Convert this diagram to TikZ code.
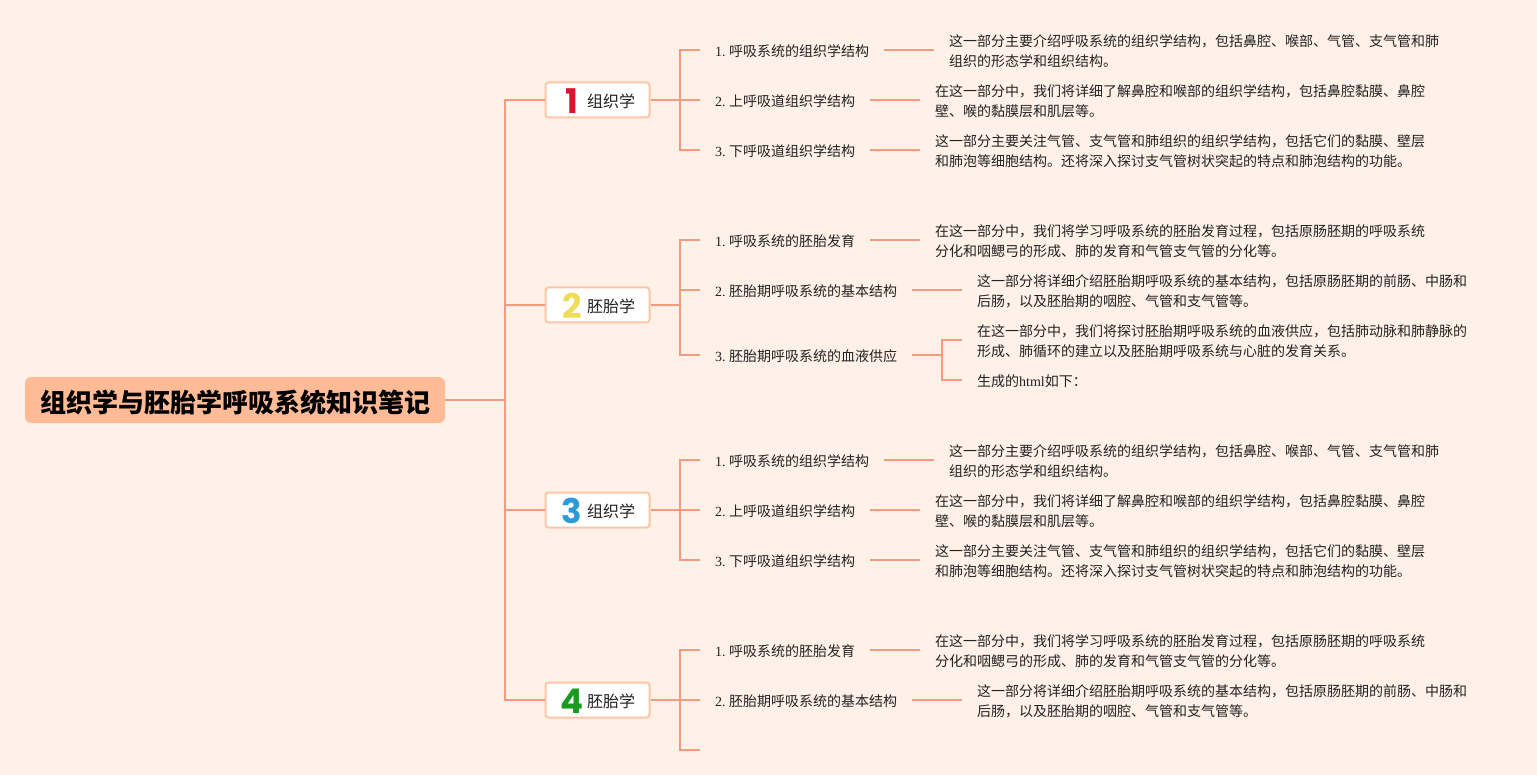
\documentclass[tikz,border=0pt]{standalone}
\usepackage{fontspec}
\setmainfont{Noto Sans CJK SC}
\newfontfamily\latinfont{Liberation Serif}
\newfontfamily\numfont{Poppins}[BoldFont={Poppins Bold}]
\definecolor{bgcol}{HTML}{FFF1E8}
\definecolor{linecol}{HTML}{F29B7E}
\definecolor{rootcol}{HTML}{FFBB96}
\definecolor{boxcol}{HTML}{FFC6A6}
\definecolor{txtcol}{HTML}{222222}
\definecolor{numa}{HTML}{D9142E}
\definecolor{numb}{HTML}{F0DC5A}
\definecolor{numc}{HTML}{2A9BD8}
\definecolor{numd}{HTML}{1A9A1E}
\newcommand{\numtag}[2]{\makebox[24pt][c]{\raisebox{-6pt}[0pt][0pt]{\fontsize{34}{34}\selectfont\numfont\bfseries\color{#1}#2}}\hspace{3pt}}
\newcommand{\notetop}{\rule{0pt}{14.5pt}}

\begin{document}
\begin{tikzpicture}[x=1pt,y=-1pt]
\tikzstyle{root}=[fill=rootcol,rounded corners=6pt,minimum width=420pt,minimum height=46pt,inner sep=0pt,text=black,font=\fontsize{26}{30}\selectfont\bfseries,execute at begin node={\rule{0pt}{27pt}}]
\tikzstyle{branch}=[draw=boxcol,line width=2pt,fill=white,rounded corners=3pt,minimum width=104pt,minimum height=35pt,inner sep=0pt,text=txtcol,font=\fontsize{16}{20}\selectfont,execute at begin node={\rule{0pt}{16pt}}]
\tikzstyle{leaf}=[anchor=west,inner xsep=15pt,inner ysep=2pt,text=txtcol,font=\fontsize{14}{20}\selectfont,execute at begin node={\rule{0pt}{14.5pt}}]
\tikzstyle{note}=[anchor=west,inner xsep=15pt,inner ysep=2pt,text=txtcol,font=\fontsize{14}{20}\selectfont,align=left]
\tikzstyle{edge}=[draw=linecol,line width=2pt]
    \fill[bgcol] (0,0) rectangle (1537,775);
    \useasboundingbox (0,0) rectangle (1537,775);
    % root and main spine
    \node[root] (root) at (235,400) {组织学与胚胎学呼吸系统知识笔记};
    \coordinate (s0) at (505,400);
    \node[branch] (b1) at (597.5,100) {\numtag{numa}{1}组织学};
    \node[branch] (b2) at (597.5,305) {\numtag{numb}{2}胚胎学};
    \node[branch] (b3) at (597.5,510) {\numtag{numc}{3}组织学};
    \node[branch] (b4) at (597.5,700) {\numtag{numd}{4}胚胎学};
    \path (root.east) edge [edge] (s0);
    \path[edge] (s0) |- (b1.west);
    \path[edge] (s0) |- (b2.west);
    \path[edge] (s0) |- (b3.west);
    \path[edge] (s0) |- (b4.west);
    % first group
    \coordinate (s1) at (680,100);
    \node[leaf] (l11) at (700,50) {{\latinfont 1.\ }呼吸系统的组织学结构};
    \node[leaf] (l12) at (700,100) {{\latinfont 2.\ }上呼吸道组织学结构};
    \node[leaf] (l13) at (700,150) {{\latinfont 3.\ }下呼吸道组织学结构};
    \node[note] (t11) at (934,50) {\notetop 这一部分主要介绍呼吸系统的组织学结构，包括鼻腔、喉部、气管、支气管和肺\\组织的形态学和组织结构。};
    \node[note] (t12) at (920,100) {\notetop 在这一部分中，我们将详细了解鼻腔和喉部的组织学结构，包括鼻腔黏膜、鼻腔\\壁、喉的黏膜层和肌层等。};
    \node[note] (t13) at (920,150) {\notetop 这一部分主要关注气管、支气管和肺组织的组织学结构，包括它们的黏膜、壁层\\和肺泡等细胞结构。还将深入探讨支气管树状突起的特点和肺泡结构的功能。};
    \path (b1.east) edge [edge] (s1);
    \path[edge] (s1) |- (l11.west);
    \path[edge] (s1) -- (l12.west);
    \path[edge] (s1) |- (l13.west);
    \path (l11) edge [edge] (t11);
    \path (l12) edge [edge] (t12);
    \path (l13) edge [edge] (t13);
    % second group
    \coordinate (s2) at (680,305);
    \coordinate (s23) at (942,355);
    \node[leaf] (l21) at (700,240) {{\latinfont 1.\ }呼吸系统的胚胎发育};
    \node[leaf] (l22) at (700,290) {{\latinfont 2.\ }胚胎期呼吸系统的基本结构};
    \node[leaf] (l23) at (700,355) {{\latinfont 3.\ }胚胎期呼吸系统的血液供应};
    \node[note] (t21) at (920,240) {\notetop 在这一部分中，我们将学习呼吸系统的胚胎发育过程，包括原肠胚期的呼吸系统\\分化和咽鳃弓的形成、肺的发育和气管支气管的分化等。};
    \node[note] (t22) at (962,290) {\notetop 这一部分将详细介绍胚胎期呼吸系统的基本结构，包括原肠胚期的前肠、中肠和\\后肠，以及胚胎期的咽腔、气管和支气管等。};
    \node[note] (t23) at (962,340) {\notetop 在这一部分中，我们将探讨胚胎期呼吸系统的血液供应，包括肺动脉和肺静脉的\\形成、肺循环的建立以及胚胎期呼吸系统与心脏的发育关系。};
    \node[leaf] (t24) at (962,380) {生成的{\latinfont html}如下：};
    \path (b2.east) edge [edge] (s2);
    \path[edge] (s2) |- (l21.west);
    \path[edge] (s2) |- (l22.west);
    \path[edge] (s2) |- (l23.west);
    \path (l21) edge [edge] (t21);
    \path (l22) edge [edge] (t22);
    \path (l23) edge [edge] (s23);
    \path[edge] (s23) |- (t23.west);
    \path[edge] (s23) |- (t24.west);
    % third group
    \coordinate (s3) at (680,510);
    \node[leaf] (l31) at (700,460) {{\latinfont 1.\ }呼吸系统的组织学结构};
    \node[leaf] (l32) at (700,510) {{\latinfont 2.\ }上呼吸道组织学结构};
    \node[leaf] (l33) at (700,560) {{\latinfont 3.\ }下呼吸道组织学结构};
    \node[note] (t31) at (934,460) {\notetop 这一部分主要介绍呼吸系统的组织学结构，包括鼻腔、喉部、气管、支气管和肺\\组织的形态学和组织结构。};
    \node[note] (t32) at (920,510) {\notetop 在这一部分中，我们将详细了解鼻腔和喉部的组织学结构，包括鼻腔黏膜、鼻腔\\壁、喉的黏膜层和肌层等。};
    \node[note] (t33) at (920,560) {\notetop 这一部分主要关注气管、支气管和肺组织的组织学结构，包括它们的黏膜、壁层\\和肺泡等细胞结构。还将深入探讨支气管树状突起的特点和肺泡结构的功能。};
    \path (b3.east) edge [edge] (s3);
    \path[edge] (s3) |- (l31.west);
    \path[edge] (s3) -- (l32.west);
    \path[edge] (s3) |- (l33.west);
    \path (l31) edge [edge] (t31);
    \path (l32) edge [edge] (t32);
    \path (l33) edge [edge] (t33);
    % fourth group
    \coordinate (s4) at (680,700);
    \coordinate (l43) at (700,750);
    \node[leaf] (l41) at (700,650) {{\latinfont 1.\ }呼吸系统的胚胎发育};
    \node[leaf] (l42) at (700,700) {{\latinfont 2.\ }胚胎期呼吸系统的基本结构};
    \node[note] (t41) at (920,650) {\notetop 在这一部分中，我们将学习呼吸系统的胚胎发育过程，包括原肠胚期的呼吸系统\\分化和咽鳃弓的形成、肺的发育和气管支气管的分化等。};
    \node[note] (t42) at (962,700) {\notetop 这一部分将详细介绍胚胎期呼吸系统的基本结构，包括原肠胚期的前肠、中肠和\\后肠，以及胚胎期的咽腔、气管和支气管等。};
    \path (b4.east) edge [edge] (s4);
    \path[edge] (s4) |- (l41.west);
    \path[edge] (s4) -- (l42.west);
    \path[edge] (s4) |- (l43);
    \path (l41) edge [edge] (t41);
    \path (l42) edge [edge] (t42);
\end{tikzpicture}
\end{document}
